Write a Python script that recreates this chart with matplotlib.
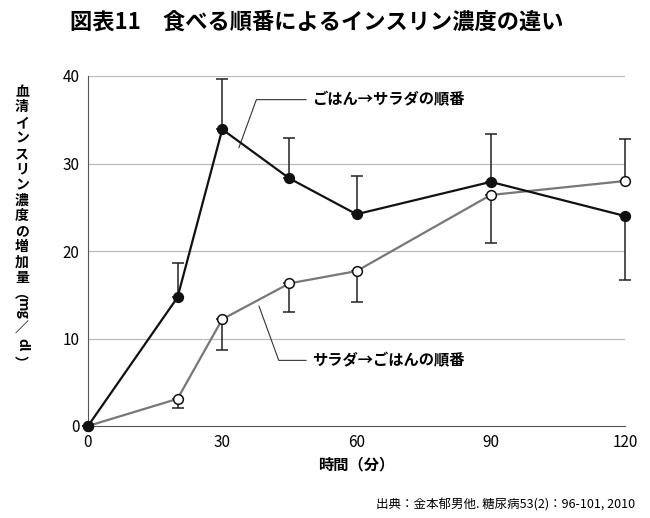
import matplotlib
matplotlib.use("Agg")
import matplotlib.pyplot as plt

plt.rcParams["font.family"] = "Noto Sans CJK JP"

times = [0, 20, 30, 45, 60, 90, 120]
rice_first = [0, 14.7, 33.9, 28.3, 24.2, 27.9, 24.0]
rice_err_up = [0, 3.9, 5.8, 4.6, 4.4, 5.5, 0]
rice_err_lo = [0, 0, 0, 0, 0, 0, 7.3]
salad_first = [0, 3.1, 12.2, 16.3, 17.7, 26.4, 28.0]
salad_err_lo = [0, 1.0, 3.5, 3.3, 3.5, 5.5, 0]
salad_err_up = [0, 0, 0, 0, 0, 0, 4.8]
xticks = [0, 30, 60, 90, 120]
yticks = [0, 10, 20, 30, 40]

fig = plt.figure(figsize=(6.5, 5.18), dpi=100)
ax = fig.add_axes([88/650, 1-426/518, 537/650, 350/518])
ax.set_xlim(0, 120)
ax.set_ylim(0, 40)
for y in yticks[1:]:
    ax.axhline(y, color="#bbbbbb", lw=0.9, zorder=0)

for vals, lo, up, lc, fc in [(salad_first, salad_err_lo, salad_err_up, "#777777", "white"),
                             (rice_first, rice_err_lo, rice_err_up, "#111111", "#111111")]:
    cont = ax.errorbar(times, vals, yerr=[lo, up], color=lc,
                       lw=1.6, capsize=4, elinewidth=1.1, marker="o", ms=7, mfc=fc,
                       mec="#111111", mew=1.1, ecolor="#222222", zorder=3)
    for art in [cont[0], *cont[1], *cont[2]]:
        art.set_clip_on(False)

ax.set_xticks(xticks)
ax.set_yticks(yticks)
ax.tick_params(labelsize=11, length=0, pad=6)
for s in ["top", "right"]:
    ax.spines[s].set_visible(False)
ax.spines["left"].set_color("#555555")
ax.spines["bottom"].set_color("#555555")
ax.set_xlabel("時間（分）", fontsize=11, fontweight="bold")

ax.annotate("ごはん→サラダの順番", xy=(33.5, 31.5), xytext=(50, 37.3),
            fontsize=11, fontweight="bold", va="center",
            arrowprops=dict(arrowstyle="-", color="#333333", lw=0.8,
                            connectionstyle="angle,angleA=0,angleB=70,rad=0"))
ax.annotate("サラダ→ごはんの順番", xy=(38, 14.0), xytext=(50, 7.5),
            fontsize=11, fontweight="bold", va="center",
            arrowprops=dict(arrowstyle="-", color="#333333", lw=0.8,
                            connectionstyle="angle,angleA=0,angleB=110,rad=0"))

fig.text(70/650, 1-22/518, "図表11　食べる順番によるインスリン濃度の違い",
         fontsize=16, fontweight="bold", va="center")
chars = list("血清インスリン濃度の増加量") + ["︵", "mg", "／", "dl", "︶"]
y0 = 92
for c in chars:
    rot = 270 if c in ("mg", "dl") else 0
    fig.text(22/650, 1-y0/518, c, fontsize=10, fontweight="bold",
             ha="center", va="center", rotation=rot)
    y0 += 15.5 if c not in ("mg", "dl") else 20
fig.text(635/650, 1-505/518, "出典：金本郁男他. 糖尿病53(2)：96-101, 2010",
         fontsize=9, ha="right", va="center")
fig.savefig("out.png", dpi=100)
